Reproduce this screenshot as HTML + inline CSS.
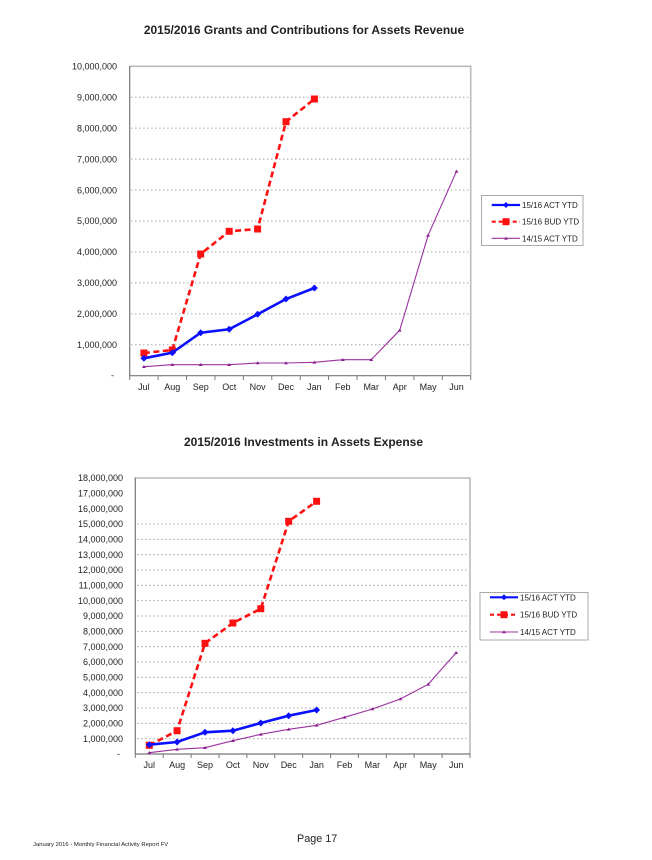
<!DOCTYPE html>
<html>
<head>
<meta charset="utf-8">
<style>
html,body{margin:0;padding:0;background:#fff;}
svg{display:block;}
text{font-family:"Liberation Sans",Arial,sans-serif;fill:#222;}
</style>
</head>
<body>
<svg width="652" height="860" viewBox="0 0 652 860" xmlns="http://www.w3.org/2000/svg">
<rect x="0" y="0" width="652" height="860" fill="#fff"/>

<!-- ============ CHART 1 ============ -->
<text x="304" y="34" text-anchor="middle" font-size="12" font-weight="bold" fill="#111">2015/2016 Grants and Contributions for Assets Revenue</text>

<!-- gridlines -->
<g stroke="#aaa" stroke-width="1" stroke-dasharray="1.5,2.5">
<line x1="131" y1="344.76" x2="470" y2="344.76"/>
<line x1="131" y1="313.82" x2="470" y2="313.82"/>
<line x1="131" y1="282.88" x2="470" y2="282.88"/>
<line x1="131" y1="251.94" x2="470" y2="251.94"/>
<line x1="131" y1="221.0" x2="470" y2="221.0"/>
<line x1="131" y1="190.06" x2="470" y2="190.06"/>
<line x1="131" y1="159.12" x2="470" y2="159.12"/>
<line x1="131" y1="128.18" x2="470" y2="128.18"/>
<line x1="131" y1="97.24" x2="470" y2="97.24"/>
</g>
<!-- border -->
<polyline points="129.7,66.3 470.7,66.3 470.7,375.7" fill="none" stroke="#bbb" stroke-width="1.6"/>
<line x1="129.7" y1="66" x2="129.7" y2="376" stroke="#777" stroke-width="1.2"/>
<line x1="129.7" y1="375.7" x2="470.7" y2="375.7" stroke="#777" stroke-width="1.2"/>
<!-- x ticks -->
<g stroke="#777" stroke-width="1">
<line x1="129.7" y1="375.7" x2="129.7" y2="380"/>
<line x1="158.1" y1="375.7" x2="158.1" y2="380"/>
<line x1="186.5" y1="375.7" x2="186.5" y2="380"/>
<line x1="214.95" y1="375.7" x2="214.95" y2="380"/>
<line x1="243.4" y1="375.7" x2="243.4" y2="380"/>
<line x1="271.8" y1="375.7" x2="271.8" y2="380"/>
<line x1="300.2" y1="375.7" x2="300.2" y2="380"/>
<line x1="328.6" y1="375.7" x2="328.6" y2="380"/>
<line x1="357.0" y1="375.7" x2="357.0" y2="380"/>
<line x1="385.45" y1="375.7" x2="385.45" y2="380"/>
<line x1="413.9" y1="375.7" x2="413.9" y2="380"/>
<line x1="442.3" y1="375.7" x2="442.3" y2="380"/>
<line x1="470.7" y1="375.7" x2="470.7" y2="380"/>
</g>
<!-- y labels -->
<g font-size="9" text-anchor="end" fill="#222">
<text x="117" y="69.5">10,000,000</text>
<text x="117" y="100.4">9,000,000</text>
<text x="117" y="131.4">8,000,000</text>
<text x="117" y="162.3">7,000,000</text>
<text x="117" y="193.3">6,000,000</text>
<text x="117" y="224.2">5,000,000</text>
<text x="117" y="255.1">4,000,000</text>
<text x="117" y="286.1">3,000,000</text>
<text x="117" y="317.0">2,000,000</text>
<text x="117" y="348.0">1,000,000</text>
<text x="114" y="378.5">-</text>
</g>
<!-- x labels -->
<g font-size="9" text-anchor="middle" fill="#222">
<text x="143.9" y="390">Jul</text>
<text x="172.3" y="390">Aug</text>
<text x="200.7" y="390">Sep</text>
<text x="229.2" y="390">Oct</text>
<text x="257.6" y="390">Nov</text>
<text x="286.0" y="390">Dec</text>
<text x="314.4" y="390">Jan</text>
<text x="342.8" y="390">Feb</text>
<text x="371.2" y="390">Mar</text>
<text x="399.7" y="390">Apr</text>
<text x="428.1" y="390">May</text>
<text x="456.5" y="390">Jun</text>
</g>
<!-- purple series -->
<polyline fill="none" stroke="#9b30a0" stroke-width="1.1" points="143.9,366.7 172.3,364.7 200.7,364.7 229.2,364.7 257.6,363 286.0,363 314.4,362.3 342.8,359.7 371.2,359.7 399.7,330.3 428.1,235.3 456.5,171.3"/>
<g fill="#8a1f90">
<path d="M143.9,365 l2,3 h-4z"/><path d="M172.3,363 l2,3 h-4z"/><path d="M200.7,363 l2,3 h-4z"/><path d="M229.2,363 l2,3 h-4z"/><path d="M257.6,361.3 l2,3 h-4z"/><path d="M286.0,361.3 l2,3 h-4z"/><path d="M314.4,360.6 l2,3 h-4z"/><path d="M342.8,358 l2,3 h-4z"/><path d="M371.2,358 l2,3 h-4z"/><path d="M399.7,328.6 l2,3 h-4z"/><path d="M428.1,233.6 l2,3 h-4z"/><path d="M456.5,169.6 l2,3 h-4z"/>
</g>
<!-- red series -->
<polyline fill="none" stroke="#ff1010" stroke-width="2.6" stroke-dasharray="6,3.5" points="143.9,353 172.3,350 200.7,254 229.2,231.3 257.6,229 286.0,121.7 314.4,99"/>
<g fill="#ff1010">
<rect x="140.4" y="349.5" width="7" height="7"/><rect x="168.8" y="346.5" width="7" height="7"/><rect x="197.2" y="250.5" width="7" height="7"/><rect x="225.7" y="227.8" width="7" height="7"/><rect x="254.1" y="225.5" width="7" height="7"/><rect x="282.5" y="118.2" width="7" height="7"/><rect x="310.9" y="95.5" width="7" height="7"/>
</g>
<!-- blue series -->
<polyline fill="none" stroke="#0a10ff" stroke-width="2.6" points="143.9,358.3 172.3,352.7 200.7,332.7 229.2,329.3 257.6,314.3 286.0,299 314.4,288"/>
<g fill="#0a10ff">
<path d="M143.9,354.8 l3.5,3.5 -3.5,3.5 -3.5,-3.5z"/><path d="M172.3,349.2 l3.5,3.5 -3.5,3.5 -3.5,-3.5z"/><path d="M200.7,329.2 l3.5,3.5 -3.5,3.5 -3.5,-3.5z"/><path d="M229.2,325.8 l3.5,3.5 -3.5,3.5 -3.5,-3.5z"/><path d="M257.6,310.8 l3.5,3.5 -3.5,3.5 -3.5,-3.5z"/><path d="M286.0,295.5 l3.5,3.5 -3.5,3.5 -3.5,-3.5z"/><path d="M314.4,284.5 l3.5,3.5 -3.5,3.5 -3.5,-3.5z"/>
</g>
<!-- legend 1 -->
<rect x="481.5" y="195.5" width="101.5" height="50" fill="#fff" stroke="#aaa" stroke-width="1"/>
<line x1="491.7" y1="205" x2="520" y2="205" stroke="#0a10ff" stroke-width="2.2"/>
<path d="M506,202 l3,3 -3,3 -3,-3z" fill="#0a10ff"/>
<line x1="491.7" y1="221.7" x2="520" y2="221.7" stroke="#ff1010" stroke-width="2.2" stroke-dasharray="4,3"/>
<rect x="502.5" y="218.2" width="7" height="7" fill="#ff1010"/>
<line x1="491.7" y1="238.3" x2="520" y2="238.3" stroke="#9b30a0" stroke-width="1.1"/>
<path d="M506,236.6 l2,3 h-4z" fill="#8a1f90"/>
<g font-size="8" fill="#222">
<text x="522" y="208">15/16 ACT YTD</text>
<text x="522" y="224.7">15/16 BUD YTD</text>
<text x="522" y="241.3">14/15 ACT YTD</text>
</g>

<!-- ============ CHART 2 ============ -->
<text x="303.5" y="446" text-anchor="middle" font-size="12" font-weight="bold" fill="#111">2015/2016 Investments in Assets Expense</text>

<g stroke="#aaa" stroke-width="1" stroke-dasharray="1.5,2.5">
<line x1="137" y1="738.67" x2="469" y2="738.67"/>
<line x1="137" y1="723.33" x2="469" y2="723.33"/>
<line x1="137" y1="708" x2="469" y2="708"/>
<line x1="137" y1="692.67" x2="469" y2="692.67"/>
<line x1="137" y1="677.33" x2="469" y2="677.33"/>
<line x1="137" y1="662" x2="469" y2="662"/>
<line x1="137" y1="646.67" x2="469" y2="646.67"/>
<line x1="137" y1="631.33" x2="469" y2="631.33"/>
<line x1="137" y1="616" x2="469" y2="616"/>
<line x1="137" y1="600.67" x2="469" y2="600.67"/>
<line x1="137" y1="585.33" x2="469" y2="585.33"/>
<line x1="137" y1="570" x2="469" y2="570"/>
<line x1="137" y1="554.67" x2="469" y2="554.67"/>
<line x1="137" y1="539.33" x2="469" y2="539.33"/>
<line x1="137" y1="524" x2="469" y2="524"/>
</g>
<polyline points="135.3,478 470,478 470,754" fill="none" stroke="#bbb" stroke-width="1.6"/>
<line x1="135.3" y1="477.5" x2="135.3" y2="754.5" stroke="#777" stroke-width="1.2"/>
<line x1="135.3" y1="754" x2="470" y2="754" stroke="#777" stroke-width="1.2"/>
<g stroke="#777" stroke-width="1">
<line x1="135.3" y1="754" x2="135.3" y2="758"/>
<line x1="163.2" y1="754" x2="163.2" y2="758"/>
<line x1="191.1" y1="754" x2="191.1" y2="758"/>
<line x1="219.0" y1="754" x2="219.0" y2="758"/>
<line x1="246.9" y1="754" x2="246.9" y2="758"/>
<line x1="274.75" y1="754" x2="274.75" y2="758"/>
<line x1="302.65" y1="754" x2="302.65" y2="758"/>
<line x1="330.55" y1="754" x2="330.55" y2="758"/>
<line x1="358.4" y1="754" x2="358.4" y2="758"/>
<line x1="386.3" y1="754" x2="386.3" y2="758"/>
<line x1="414.2" y1="754" x2="414.2" y2="758"/>
<line x1="442.1" y1="754" x2="442.1" y2="758"/>
<line x1="470" y1="754" x2="470" y2="758"/>
</g>
<g font-size="9" text-anchor="end" fill="#222">
<text x="123" y="481.2">18,000,000</text>
<text x="123" y="496.5">17,000,000</text>
<text x="123" y="511.9">16,000,000</text>
<text x="123" y="527.2">15,000,000</text>
<text x="123" y="542.5">14,000,000</text>
<text x="123" y="557.9">13,000,000</text>
<text x="123" y="573.2">12,000,000</text>
<text x="123" y="588.5">11,000,000</text>
<text x="123" y="603.9">10,000,000</text>
<text x="123" y="619.2">9,000,000</text>
<text x="123" y="634.5">8,000,000</text>
<text x="123" y="649.9">7,000,000</text>
<text x="123" y="665.2">6,000,000</text>
<text x="123" y="680.5">5,000,000</text>
<text x="123" y="695.9">4,000,000</text>
<text x="123" y="711.2">3,000,000</text>
<text x="123" y="726.5">2,000,000</text>
<text x="123" y="741.9">1,000,000</text>
<text x="120" y="757">-</text>
</g>
<g font-size="9" text-anchor="middle" fill="#222">
<text x="149.3" y="768">Jul</text>
<text x="177.1" y="768">Aug</text>
<text x="205.0" y="768">Sep</text>
<text x="232.9" y="768">Oct</text>
<text x="260.8" y="768">Nov</text>
<text x="288.7" y="768">Dec</text>
<text x="316.6" y="768">Jan</text>
<text x="344.5" y="768">Feb</text>
<text x="372.4" y="768">Mar</text>
<text x="400.3" y="768">Apr</text>
<text x="428.2" y="768">May</text>
<text x="456.1" y="768">Jun</text>
</g>
<polyline fill="none" stroke="#9b30a0" stroke-width="1.1" points="149.3,752.7 177.1,749.3 205.0,747.7 232.9,740.7 260.8,734.3 288.7,729.3 316.6,725.3 344.5,717.3 372.4,709 400.3,699 428.2,684.3 456.1,652.7"/>
<g fill="#8a1f90">
<path d="M149.3,751 l2,3 h-4z"/><path d="M177.1,747.6 l2,3 h-4z"/><path d="M205.0,746 l2,3 h-4z"/><path d="M232.9,739 l2,3 h-4z"/><path d="M260.8,732.6 l2,3 h-4z"/><path d="M288.7,727.6 l2,3 h-4z"/><path d="M316.6,723.6 l2,3 h-4z"/><path d="M344.5,715.6 l2,3 h-4z"/><path d="M372.4,707.3 l2,3 h-4z"/><path d="M400.3,697.3 l2,3 h-4z"/><path d="M428.2,682.6 l2,3 h-4z"/><path d="M456.1,651 l2,3 h-4z"/>
</g>
<polyline fill="none" stroke="#ff1010" stroke-width="2.6" stroke-dasharray="6,3.5" points="149.3,745.3 177.1,730.7 205.0,643.3 232.9,623 260.8,608.7 288.7,521.3 316.6,501.3"/>
<g fill="#ff1010">
<rect x="145.8" y="741.8" width="7" height="7"/><rect x="173.6" y="727.2" width="7" height="7"/><rect x="201.5" y="639.8" width="7" height="7"/><rect x="229.4" y="619.5" width="7" height="7"/><rect x="257.3" y="605.2" width="7" height="7"/><rect x="285.2" y="517.8" width="7" height="7"/><rect x="313.1" y="497.8" width="7" height="7"/>
</g>
<polyline fill="none" stroke="#0a10ff" stroke-width="2.6" points="149.3,744.7 177.1,742 205.0,732.3 232.9,730.7 260.8,723 288.7,715.7 316.6,710"/>
<g fill="#0a10ff">
<path d="M149.3,741.2 l3.5,3.5 -3.5,3.5 -3.5,-3.5z"/><path d="M177.1,738.5 l3.5,3.5 -3.5,3.5 -3.5,-3.5z"/><path d="M205.0,728.8 l3.5,3.5 -3.5,3.5 -3.5,-3.5z"/><path d="M232.9,727.2 l3.5,3.5 -3.5,3.5 -3.5,-3.5z"/><path d="M260.8,719.5 l3.5,3.5 -3.5,3.5 -3.5,-3.5z"/><path d="M288.7,712.2 l3.5,3.5 -3.5,3.5 -3.5,-3.5z"/><path d="M316.6,706.5 l3.5,3.5 -3.5,3.5 -3.5,-3.5z"/>
</g>
<!-- legend 2 -->
<rect x="480" y="592.5" width="108" height="47.5" fill="#fff" stroke="#aaa" stroke-width="1"/>
<line x1="490" y1="597.3" x2="518" y2="597.3" stroke="#0a10ff" stroke-width="2.2"/>
<path d="M504,594.3 l3,3 -3,3 -3,-3z" fill="#0a10ff"/>
<line x1="490" y1="614.7" x2="518" y2="614.7" stroke="#ff1010" stroke-width="2.2" stroke-dasharray="4,3"/>
<rect x="500.5" y="611.2" width="7" height="7" fill="#ff1010"/>
<line x1="490" y1="632" x2="518" y2="632" stroke="#9b30a0" stroke-width="1.1"/>
<path d="M504,630.3 l2,3 h-4z" fill="#8a1f90"/>
<g font-size="8" fill="#222">
<text x="520" y="600.3">15/16 ACT YTD</text>
<text x="520" y="617.7">15/16 BUD YTD</text>
<text x="520" y="635">14/15 ACT YTD</text>
</g>

<!-- footer -->
<text x="33" y="846" font-size="5.9" fill="#444">January 2016 - Monthly Financial Activity Report FV</text>
<text x="297" y="842" font-size="10.8" fill="#111">Page 17</text>
</svg>
</body>
</html>
